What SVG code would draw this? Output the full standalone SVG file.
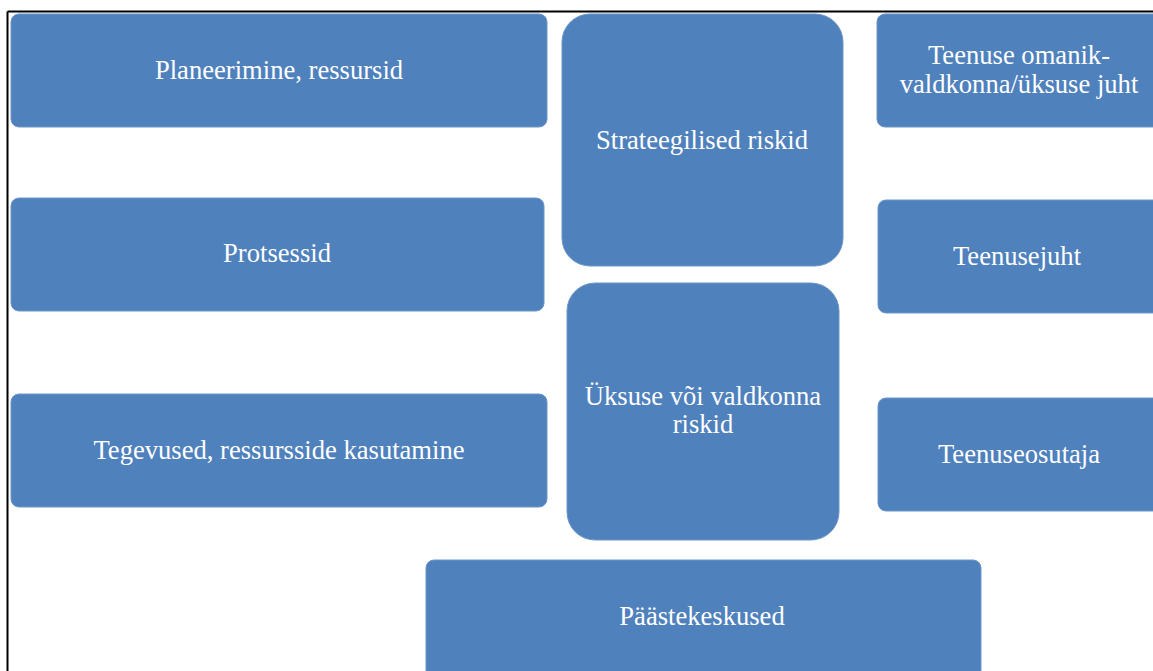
<svg xmlns="http://www.w3.org/2000/svg" width="1153" height="671" viewBox="0 0 1153 671">
  <style>
    .box { fill: #4f81bd; stroke: #6d95c8; stroke-width: 1; }
    .lbl { fill: #ffffff; font-family: "Liberation Serif", "Times New Roman", serif; font-size: 26.6px; text-anchor: middle; }
    .frame { stroke: #000000; stroke-width: 2; fill: none; }
  </style>
  <rect x="0" y="0" width="1153" height="671" fill="#ffffff"/>
  <!-- page frame -->
  <g id="frame">
    <line class="frame" x1="7.5" y1="11.5" x2="1153" y2="11.5"/>
    <line class="frame" x1="7.5" y1="11.5" x2="7.5" y2="671"/>
  </g>
  <g id="connectors"></g>
  <g id="planeerimine">
    <rect class="box" x="11" y="14" width="536" height="113" rx="8"/>
    <text class="lbl" x="279" y="79">Planeerimine, ressursid</text>
  </g>
  <g id="strateegilised">
    <rect class="box" x="562" y="14" width="281" height="252" rx="28"/>
    <text class="lbl" x="702" y="149">Strateegilised riskid</text>
  </g>
  <g id="teenuse-omanik">
    <rect class="box" x="877" y="14" width="290" height="113" rx="8"/>
    <text class="lbl" x="1019" y="64">Teenuse omanik-</text>
    <text class="lbl" x="1019" y="93">valdkonna/üksuse juht</text>
  </g>
  <g id="protsessid">
    <rect class="box" x="11" y="198" width="533" height="113" rx="8"/>
    <text class="lbl" x="277" y="262">Protsessid</text>
  </g>
  <g id="teenusejuht">
    <rect class="box" x="878" y="200" width="290" height="113" rx="8"/>
    <text class="lbl" x="1017" y="265">Teenusejuht</text>
  </g>
  <g id="uksuse">
    <rect class="box" x="567" y="283" width="272" height="257" rx="28"/>
    <text class="lbl" x="703" y="405">Üksuse või valdkonna</text>
    <text class="lbl" x="703" y="433">riskid</text>
  </g>
  <g id="tegevused">
    <rect class="box" x="11" y="394" width="536" height="113" rx="8"/>
    <text class="lbl" x="279" y="459">Tegevused, ressursside kasutamine</text>
  </g>
  <g id="teenuseosutaja">
    <rect class="box" x="878" y="398" width="290" height="113" rx="8"/>
    <text class="lbl" x="1019" y="463">Teenuseosutaja</text>
  </g>
  <g id="paastekeskused">
    <rect class="box" x="426" y="560" width="555" height="125" rx="8"/>
    <text class="lbl" x="702" y="625">Päästekeskused</text>
  </g>
</svg>
